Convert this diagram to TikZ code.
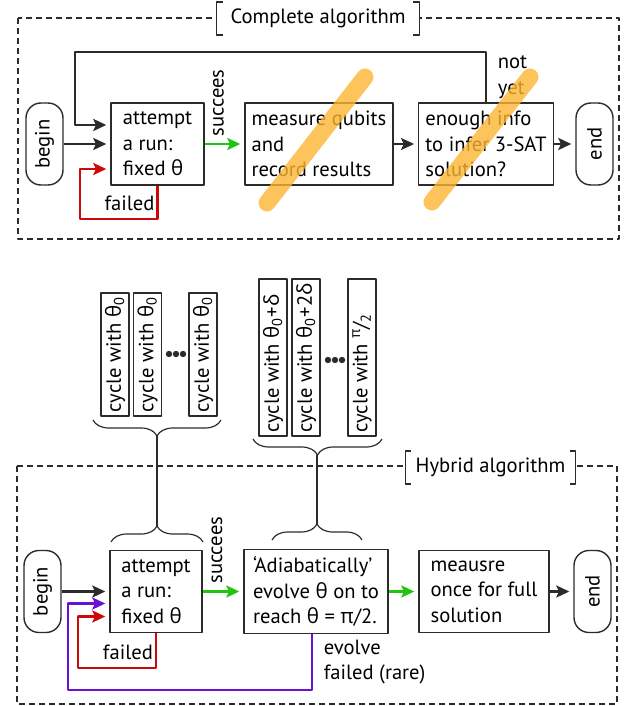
\documentclass[tikz,border=0pt]{standalone}
\usepackage{fontspec}
\setmainfont{PT Sans}
\newfontfamily\grk{Open Sans}
\usetikzlibrary{arrows.meta,decorations.pathreplacing}
\newcommand\gth{{\grk θ}}
\newcommand\gpi{{\grk π}}
\newcommand\gdl{{\grk δ}}
\newcommand\cyctext[1]{\makebox[75pt][l]{#1}}
\definecolor{darkline}{HTML}{2B2B2B}
\definecolor{okgreen}{HTML}{22C40F}
\definecolor{failred}{HTML}{CC0A0A}
\definecolor{rarepurple}{HTML}{6B10D6}
\definecolor{strike}{HTML}{FCB532}
\tikzset{
  stepbox/.style={draw=darkline, line width=0.7pt, minimum height=41pt, align=left},
  term/.style={draw=darkline, line width=0.7pt, rounded corners=7.5pt, rotate=90, minimum width=41pt, minimum height=18.5pt},
  cycbox/.style={draw=darkline, line width=0.7pt, rotate=90, minimum height=14pt, inner xsep=1.75pt, inner ysep=0pt},
  flow/.style={-{Stealth[length=6.5pt,width=6pt,inset=1.3pt]}, line width=1.2pt, shorten >=2pt},
  lbl/.style={text=black},
  dashframe/.style={dash pattern=on 3pt off 2pt, line width=0.6pt, darkline},
  ttl/.style={fill=white, minimum height=15.5pt, inner xsep=5pt},
  brc/.style={decorate, decoration={brace, amplitude=#1}, line width=0.6pt, darkline},
  strikeout/.style={line width=8.5pt, line cap=round, strike, opacity=.8}
}
\begin{document}
\begin{tikzpicture}[x=0.5pt, y=-0.5pt, font=\fontsize{10.3}{12.8}\selectfont, line join=round]
\useasboundingbox (0,0) rectangle (635,706);
\draw[dashframe] (18,18) rectangle (619,239);
\draw[dashframe] (17,466) rectangle (617,704);
\node[ttl, minimum width=101pt] (ttlA) at (318,18.5) {Complete algorithm};
\node[ttl, minimum width=84.5pt] (ttlB) at (490.5,467.5) {Hybrid algorithm};
\foreach \t in {ttlA,ttlB}{
  \draw[darkline, line width=0.6pt]([xshift=3pt]\t.north west)--(\t.north west)--(\t.south west)--([xshift=3pt]\t.south west);
  \draw[darkline, line width=0.6pt]([xshift=-3pt]\t.north east)--(\t.north east)--(\t.south east)--([xshift=-3pt]\t.south east);
}
\node[term] (beginA) at (44.5,144) {begin};
\node[stepbox, minimum width=46.5pt] (runA) at (157.5,144) {attempt\\a run:\\fixed \gth};
\node[stepbox, minimum width=73pt] (measA) at (319,144) {measure qubits\\and\\record results};
\node[stepbox, minimum width=65pt] (infoA) at (486,144) {enough info\\to infer 3-SAT\\solution?};
\node[term] (endA) at (594.5,144) {end};
\draw[flow, darkline](beginA)--(runA);
\draw[flow, okgreen](runA)--(measA)node[lbl, pos=.35, rotate=90, anchor=west]{succees};
\draw[flow, darkline](measA)--(infoA);
\draw[flow, darkline](infoA)--(endA);
\draw[flow, darkline](infoA.north)|-(75,52)node[lbl, pos=.25, right=2pt, align=left]{not\\yet}|-([yshift=9.5pt]runA.west);
\draw[flow, failred](runA.south)|-(80,219)node[lbl, pos=.68, above]{failed}|-([yshift=-12.5pt]runA.west);
\draw[strikeout](267,203)--(365,77);
\draw[strikeout](432,202)--(530,77);
\foreach \x/\n in {115/1,147.5/2,203/3}
  \node[cycbox, minimum width=61.5pt] (cycA\n) at (\x,354.5) {cycle with \gth\textsubscript{0}};
\node[cycbox] (cycB1) at (273,357.5) {\cyctext{cycle with \gth\textsubscript{0}+\gdl}};
\node[cycbox] (cycB2) at (306,357.5) {\cyctext{cycle with \gth\textsubscript{0}+2\gdl}};
\node[cycbox] (cycB3) at (362,357.5) {\cyctext{cycle with \textsuperscript{\gpi}\kern-0.5pt/\kern-0.5pt\textsubscript{2}}};
\foreach \x in {169,176,183} \fill[darkline](\x,354)circle(1.6pt);
\foreach \x in {328,335,342} \fill[darkline](\x,360)circle(1.6pt);
\coordinate (tipA) at (157,436);
\coordinate (baseA) at (157,526);
\coordinate (tipB) at (317,455);
\coordinate (baseB) at (317,524);
\draw[brc=8pt](221,420)--(93,420);
\draw[brc=8pt](111,542)--(203,542);
\draw[brc=8pt](382,439)--(253,439);
\draw[brc=8pt](272,540)--(362,540);
\draw[darkline, line width=0.6pt](tipA)--(baseA);
\draw[darkline, line width=0.6pt](tipB)--(baseB);
\node[term] (beginB) at (42.5,591.5) {begin};
\node[stepbox, minimum width=46pt] (runB) at (156,591.5) {attempt\\a run:\\fixed \gth};
\node[stepbox, minimum width=72pt] (adiaB) at (316,591.5) {‘Adiabatically’\\evolve \gth{} on to\\reach \gth{} = \gpi/2.};
\node[stepbox, minimum width=65pt] (measB) at (484,591.5) {meausre\\once for full\\solution};
\node[term] (endB) at (592.5,591.5) {end};
\draw[flow, darkline](beginB)--(runB);
\draw[flow, okgreen](runB)--(adiaB)node[lbl, pos=.35, rotate=90, anchor=west]{succees};
\draw[flow, okgreen](adiaB)--(measB);
\draw[flow, darkline](measB)--(endB);
\draw[flow, rarepurple]([xshift=-2pt]adiaB.south)|-(68,690)node[lbl, pos=.25, right=2pt, align=left]{evolve\\failed (rare)}|-([yshift=-6pt]runB.west);
\draw[flow, failred](runB.south)|-(78,668)node[lbl, pos=.68, above]{failed}|-([yshift=-12.5pt]runB.west);
\end{tikzpicture}
\end{document}
